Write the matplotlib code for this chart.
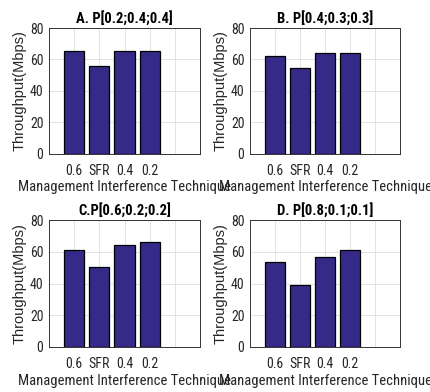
import matplotlib.pyplot as plt

NARROW = ['Liberation Sans Narrow', 'Arial Narrow', 'Roboto Condensed', 'Liberation Sans', 'DejaVu Sans']
REGULAR = ['Liberation Sans', 'DejaVu Sans']
plt.rcParams['font.family'] = NARROW

categories = ["0.6", "SFR", "0.4", "0.2"]
titles = ["A. P[0.2;0.4;0.4]", "B. P[0.4;0.3;0.3]",
          "C.P[0.6;0.2;0.2]", "D. P[0.8;0.1;0.1]"]
values_a = [65.5, 56, 65.5, 65.5]
values_b = [62.4, 54.6, 64.3, 64.3]
values_c = [61.3, 50.3, 64.2, 66.1]
values_d = [53.3, 39.2, 56.8, 61.3]
panels = [values_a, values_b, values_c, values_d]

W, H = 430, 392
BAR_COLOR = "#352A87"
TXT = "#262626"

# axes boxes in pixels: left, top, right, bottom
boxes = [(49, 28, 200, 154), (250, 28, 400, 154),
         (49, 220, 200, 347), (250, 220, 400, 347)]

fig = plt.figure(figsize=(W / 100, H / 100), dpi=100)

for (l, t, r, b), vals, title in zip(boxes, panels, titles):
    ax = fig.add_axes([l / W, 1 - b / H, (r - l) / W, (b - t) / H])
    x = range(1, len(vals) + 1)
    ax.bar(x, vals, width=0.8, color=BAR_COLOR, edgecolor="black", linewidth=0.9, zorder=3)
    ax.set_xlim(0, 6)
    ax.set_ylim(0, 80)
    ax.set_xticks([1, 2, 3, 4, 5])
    ax.set_xticklabels(categories + [""])
    ax.set_yticks([0, 20, 40, 60, 80])
    ax.grid(True, color="#e3e3e3", linewidth=0.7, zorder=0)
    ax.tick_params(labelsize=10, colors=TXT, length=0)
    ax.tick_params(axis="x", pad=7)
    ax.tick_params(axis="y", pad=4)
    for s in ax.spines.values():
        s.set_color("#333333")
        s.set_linewidth(0.7)
    ax.set_title(title, fontsize=10.5, fontweight="bold", pad=4)
    ax.set_ylabel("Throughput(Mbps)", fontsize=10.5, color=TXT, labelpad=2, family=REGULAR)
    ax.set_xlabel("Management Interference Technique", fontsize=10.5, color=TXT, labelpad=2)

fig.savefig("out.png", dpi=100, facecolor="white")
